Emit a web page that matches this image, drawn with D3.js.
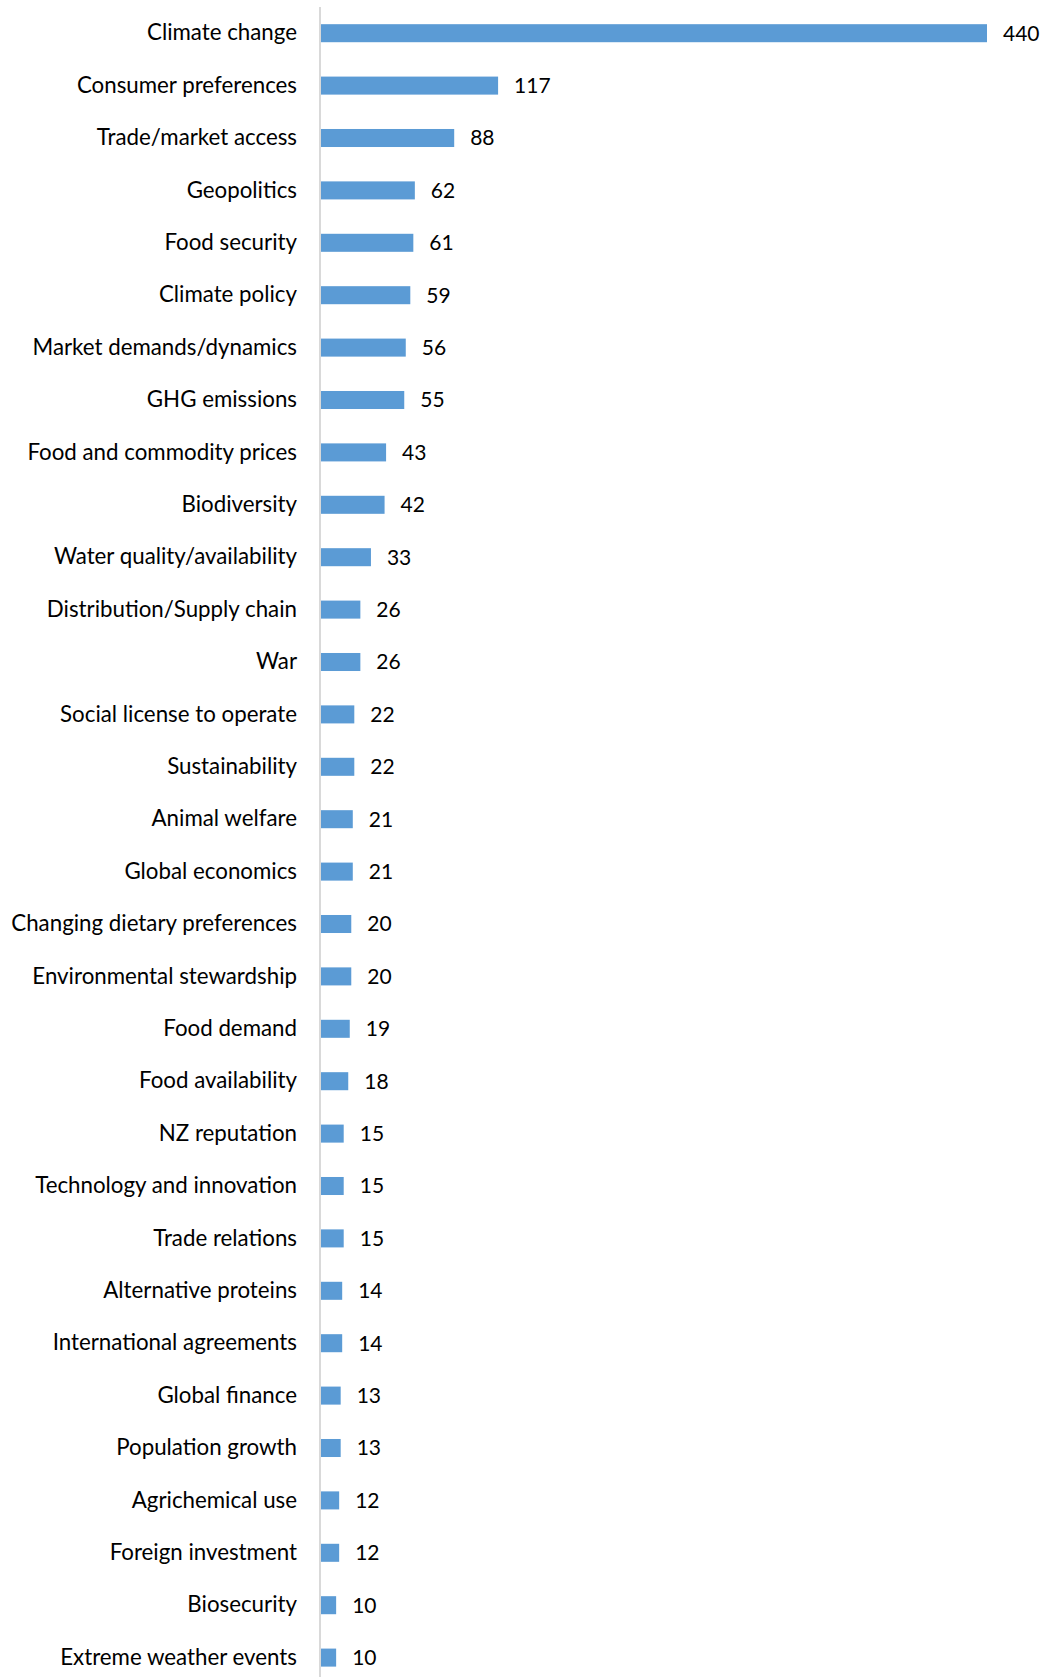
<!DOCTYPE html>
<html>
<head>
<meta charset="utf-8">
<script src="https://cdnjs.cloudflare.com/ajax/libs/d3/7.8.5/d3.min.js"></script>
<style>
  body { margin: 0; background: #fff; }
  text { font-family: Lato, "Open Sans", sans-serif; fill: #000; }
</style>
</head>
<body>
<div id="chart"></div>
<script>
const categories = [
  "Climate change", "Consumer preferences", "Trade/market access", "Geopolitics",
  "Food security", "Climate policy", "Market demands/dynamics", "GHG emissions",
  "Food and commodity prices", "Biodiversity", "Water quality/availability",
  "Distribution/Supply chain", "War", "Social license to operate", "Sustainability",
  "Animal welfare", "Global economics", "Changing dietary preferences",
  "Environmental stewardship", "Food demand", "Food availability", "NZ reputation",
  "Technology and innovation", "Trade relations", "Alternative proteins",
  "International agreements", "Global finance", "Population growth",
  "Agrichemical use", "Foreign investment", "Biosecurity", "Extreme weather events"
]
const values = [440, 117, 88, 62, 61, 59, 56, 55, 43, 42, 33, 26, 26, 22, 22, 21, 21,
  20, 20, 19, 18, 15, 15, 15, 14, 14, 13, 13, 12, 12, 10, 10]

const width = 1045
const height = 1677
const axisX = 321
const topY = 7
const step = 52.4

const svg = d3.select("#chart")
              .append("svg")
              .attr("width", width)
              .attr("height", height)

const x = d3.scaleLinear()
            .domain([0, 440])
            .range([axisX, 987])

const y = d3.scaleBand()
            .domain(categories)
            .range([topY, topY + step * categories.length])
            .paddingInner(0.656)
            .paddingOuter(0.328)

const data = categories.map((c, i) => ({ name: c, value: values[i] }))

svg.append("g")
   .selectAll("rect")
   .data(data)
   .enter()
   .append("rect")
   .attr("x", x(0))
   .attr("y", d => y(d.name))
   .attr("width", d => x(d.value) - x(0))
   .attr("height", y.bandwidth())
   .attr("fill", "#5B9BD5")

// value labels
svg.append("g")
   .selectAll("text")
   .data(data)
   .enter()
   .append("text")
   .attr("x", d => x(d.value) + 16)
   .attr("y", d => y(d.name) + y.bandwidth() / 2)
   .attr("dy", "0.35em")
   .style("font-size", "21px")
   .text(d => d.value)

// category axis
const yAxis = d3.axisLeft(y).tickSize(0).tickPadding(23)

const axisG = svg.append("g")
                 .attr("transform", `translate(${axisX - 1},0)`)
                 .call(yAxis)

axisG.select(".domain").remove()
axisG.selectAll("text")
     .style("font-size", "22.3px")
     .attr("fill", "#000")

svg.append("line")
   .attr("x1", axisX - 1)
   .attr("x2", axisX - 1)
   .attr("y1", topY)
   .attr("y2", height)
   .attr("stroke", "#d9d9d9")
   .attr("stroke-width", 2)
</script>
</body>
</html>
